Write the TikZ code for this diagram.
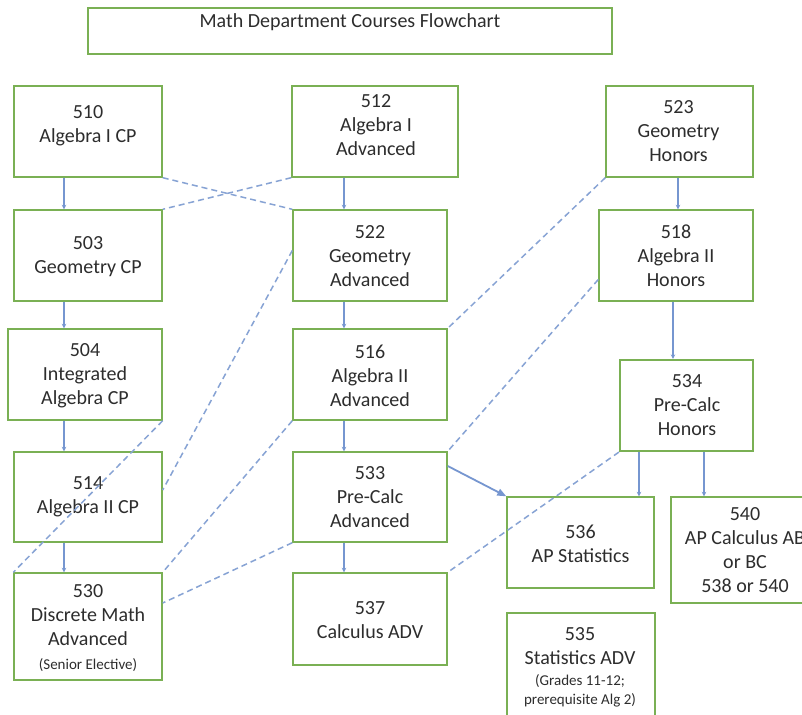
\documentclass[tikz,border=0pt]{standalone}
\usepackage{fontspec}
\setmainfont{Carlito}
\usetikzlibrary{arrows.meta}
\definecolor{boxgreen}{RGB}{122,176,84}
\definecolor{lineblue}{RGB}{118,150,208}
\definecolor{dashblue}{RGB}{135,163,212}
\definecolor{txtgray}{RGB}{45,45,45}
\begin{document}
\begin{tikzpicture}[x=1pt,y=-1pt,
  box/.style={draw=boxgreen, line width=1.4pt, rectangle, inner sep=0pt},
  txt/.style={inner sep=0pt, align=center, text=txtgray, font=\fontsize{20}{24}\selectfont},
  arr/.style={draw=lineblue, line width=1.1pt, -{Stealth[length=4.5pt,width=4.5pt]}},
  dashln/.style={draw=dashblue, line width=1.5pt, dash pattern=on 6pt off 4pt},
  bigarr/.style={draw=lineblue, line width=1.8pt, -{Triangle[length=9pt,width=7pt]}}
]
\fill[white] (0,0) rectangle (802,714);
\useasboundingbox (0,0) rectangle (802,714);
\clip (0,0) rectangle (802,714);

% boxes
\node[box, line width=1.8pt, minimum width=524pt, minimum height=46pt] (title) at (350,31) {};
\node[box, minimum width=148pt, minimum height=91pt] (n510) at (88,131.5) {};
\node[box, minimum width=166pt, minimum height=91pt] (n512) at (375,131.5) {};
\node[box, minimum width=147pt, minimum height=91pt] (n523) at (679.5,131.5) {};
\node[box, minimum width=148pt, minimum height=91pt] (n503) at (88,255.5) {};
\node[box, minimum width=154pt, minimum height=91pt] (n522) at (370,255.5) {};
\node[box, minimum width=154pt, minimum height=91pt] (n518) at (676,255.5) {};
\node[box, minimum width=154pt, minimum height=91pt] (n504) at (85,374.5) {};
\node[box, minimum width=154pt, minimum height=91pt] (n516) at (370,374.5) {};
\node[box, line width=2.2pt, minimum width=133pt, minimum height=91pt] (n534) at (686.5,405.5) {};
\node[box, minimum width=148pt, minimum height=90pt] (n514) at (88,497) {};
\node[box, minimum width=154pt, minimum height=90pt] (n533) at (370,497) {};
\node[box, minimum width=147pt, minimum height=91pt] (n536) at (580.5,542.5) {};
\node[box, minimum width=148pt, minimum height=106pt] (n540) at (745,550) {};
\node[box, minimum width=148pt, minimum height=107pt] (n530) at (88,626.5) {};
\node[box, minimum width=154pt, minimum height=92pt] (n537) at (370,619) {};
\node[box, minimum width=148pt, minimum height=117pt] (n535) at (581,671.5) {};

% texts
\node[txt, font=\fontsize{20}{24}\selectfont] (ttitle) at (350,22.5) {Math Department Courses Flowchart};
\node[txt] (t510) at (88,125.5) {510\\Algebra I CP};
\node[txt] (t512) at (376,125.5) {512\\Algebra I\\Advanced};
\node[txt] (t523) at (678.5,131) {523\\Geometry\\Honors};
\node[txt] (t503) at (88,256.5) {503\\Geometry CP};
\node[txt] (t522) at (370,256) {522\\Geometry\\Advanced};
\node[txt] (t518) at (676,255.5) {518\\Algebra II\\Honors};
\node[txt] (t504) at (85,375.5) {504\\Integrated\\Algebra CP};
\node[txt] (t516) at (370,375.5) {516\\Algebra II\\Advanced};
\node[txt] (t534) at (687,405.5) {534\\Pre-Calc\\Honors};
\node[txt] (t514) at (88,496.5) {514\\Algebra II CP};
\node[txt] (t533) at (370,497) {533\\Pre-Calc\\Advanced};
\node[txt] (t536) at (580.5,543.5) {536\\AP Statistics};
\node[txt] (t540) at (745,550.5) {540\\AP Calculus AB\\or BC\\538 or 540};
\node[txt] (t530) at (88,628) {530\\Discrete Math\\Advanced\\{\fontsize{15}{18}\selectfont (Senior Elective)}};
\node[txt] (t537) at (370,620) {537\\Calculus ADV};
\node[txt] (t535) at (580,667) {535\\Statistics ADV\\[-3pt]{\fontsize{15}{18}\selectfont (Grades 11-12;}\\[-5pt]{\fontsize{15}{18}\selectfont prerequisite Alg 2)}};

% dashed connectors
\draw[dashln] (n510.south east) -- (n522.north west);
\draw[dashln] (n512.south west) -- (n503.north east);
\draw[dashln] ([yshift=5pt]n522.west) -- ([yshift=7pt]n514.east);
\draw[dashln] (n504.south east) -- (n530.north west);
\draw[dashln] (n516.south west) -- (n530.north east);
\draw[dashln] (n533.south west) -- ([yshift=23.5pt]n530.east);
\draw[dashln] (n523.south west) -- (n516.north east);
\draw[dashln] ([yshift=-24pt]n518.west) -- (n533.north east);
\draw[dashln] (n534.south west) -- (n537.north east);

% solid arrows
\draw[arr] ([xshift=-24pt]n510.south) -- ([xshift=-24pt]n510.south |- n503.north);
\draw[arr] ([xshift=-24pt]n503.south) -- ([xshift=-24pt]n503.south |- n504.north);
\draw[arr] ([xshift=-24pt]n514.north |- n504.south) -- ([xshift=-24pt]n514.north);
\draw[arr] ([xshift=-24pt]n514.south) -- ([xshift=-24pt]n514.south |- n530.north);
\draw[arr] ([xshift=-26pt]n522.north |- n512.south) -- ([xshift=-26pt]n522.north);
\draw[arr] ([xshift=-26pt]n522.south) -- ([xshift=-26pt]n522.south |- n516.north);
\draw[arr] ([xshift=-26pt]n516.south) -- ([xshift=-26pt]n516.south |- n533.north);
\draw[arr] ([xshift=-26pt]n533.south) -- ([xshift=-26pt]n533.south |- n537.north);
\draw[arr] ([xshift=-1.5pt]n523.south) -- ([xshift=-1.5pt]n523.south |- n518.north);
\draw[arr] ([xshift=-3pt]n518.south) -- ([xshift=-3pt]n518.south |- n534.north);
\draw[arr] ([xshift=-47.5pt]n534.south) -- ([xshift=-47.5pt]n534.south |- n536.north);
\draw[arr] ([xshift=17.5pt]n534.south) -- ([xshift=17.5pt]n534.south |- n540.north);
\draw[bigarr] ([yshift=31pt]n533.east) -- (n536.north west);
\end{tikzpicture}
\end{document}
